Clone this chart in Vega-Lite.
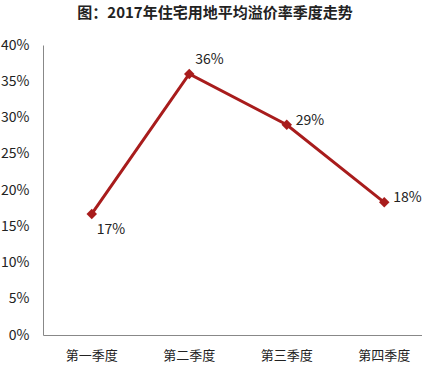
{
  "$schema": "https://vega.github.io/schema/vega-lite/v6.json",
  "autosize": {"type": "none"},
  "width": 390,
  "height": 290,
  "padding": {"left": 43, "top": 45, "right": 0, "bottom": 37},
  "background": "white",
  "title": {
    "text": "图：2017年住宅用地平均溢价率季度走势",
    "font": "Noto Sans CJK SC",
    "fontSize": 15,
    "fontWeight": "bold",
    "color": "#222",
    "anchor": "middle",
    "dx": -23,
    "offset": 17
  },
  "data": {
    "values": [
      {"quarter": "第一季度", "rate": 0.167, "label": "17%", "pos": "below"},
      {"quarter": "第二季度", "rate": 0.36, "label": "36%", "pos": "above"},
      {"quarter": "第三季度", "rate": 0.29, "label": "29%", "pos": "right"},
      {"quarter": "第四季度", "rate": 0.183, "label": "18%", "pos": "right"}
    ]
  },
  "config": {
    "view": {"stroke": null},
    "font": "Noto Sans CJK SC"
  },
  "encoding": {
    "x": {
      "field": "quarter",
      "type": "nominal",
      "sort": null,
      "scale": {"type": "band", "paddingInner": 0, "paddingOuter": 0},
      "axis": {
        "title": null,
        "labelAngle": 0,
        "ticks": false,
        "labelPadding": 14,
        "labelFontSize": 13,
        "labelColor": "#222",
        "domainColor": "#888",
        "grid": false
      }
    },
    "y": {
      "field": "rate",
      "type": "quantitative",
      "scale": {"domain": [0, 0.4]},
      "axis": {
        "title": null,
        "format": ".0%",
        "values": [0, 0.05, 0.1, 0.15, 0.2, 0.25, 0.3, 0.35, 0.4],
        "ticks": false,
        "labelPadding": 14,
        "labelFontSize": 14,
        "labelColor": "#222",
        "domainColor": "#888",
        "grid": false
      }
    }
  },
  "layer": [
    {
      "mark": {"type": "line", "color": "#a81c1c", "strokeWidth": 3}
    },
    {
      "mark": {"type": "point", "shape": "diamond", "filled": true, "color": "#a81c1c", "size": 110, "opacity": 1}
    },
    {
      "transform": [{"filter": "datum.pos === 'below'"}],
      "mark": {"type": "text", "align": "left", "dx": 5, "dy": 16, "fontSize": 14, "color": "#222"},
      "encoding": {"text": {"field": "label"}}
    },
    {
      "transform": [{"filter": "datum.pos === 'above'"}],
      "mark": {"type": "text", "align": "left", "dx": 6, "dy": -14, "fontSize": 14, "color": "#222"},
      "encoding": {"text": {"field": "label"}}
    },
    {
      "transform": [{"filter": "datum.pos === 'right'"}],
      "mark": {"type": "text", "align": "left", "dx": 9, "dy": -4, "fontSize": 14, "color": "#222"},
      "encoding": {"text": {"field": "label"}}
    }
  ]
}
